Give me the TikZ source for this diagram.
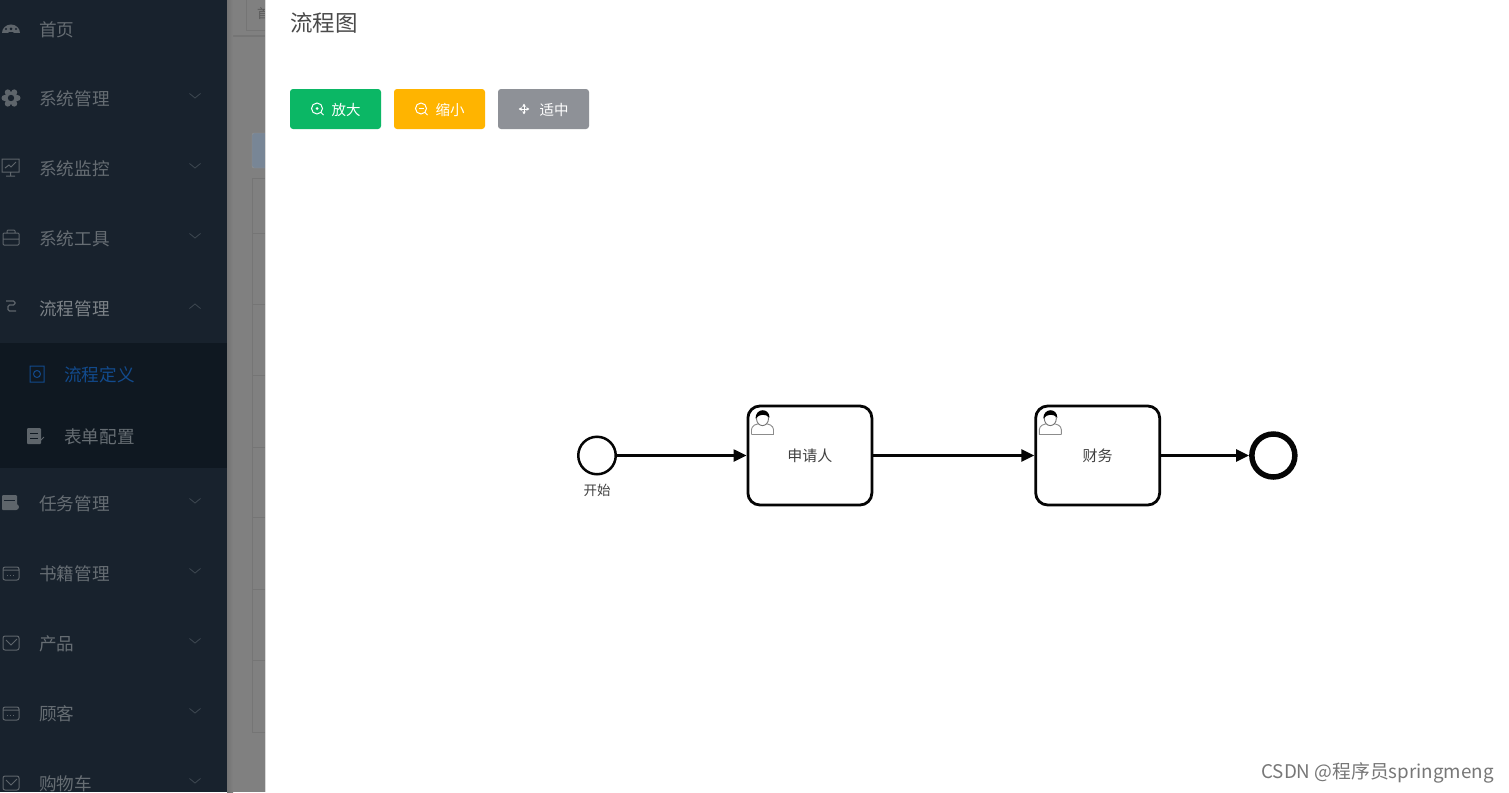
\documentclass[tikz,border=0pt]{standalone}
\usepackage{fontspec}
\usepackage{tikz}
\usetikzlibrary{arrows.meta,positioning,calc}
\setmainfont{Noto Sans CJK SC}
\definecolor{SideNavy}{HTML}{18222D}
\definecolor{SubNavy}{HTML}{0F1821}
\definecolor{MaskGrey}{HTML}{808080}
\definecolor{TableLine}{HTML}{757575}
\definecolor{MenuText}{HTML}{666D73}
\definecolor{MenuOpen}{HTML}{7C8287}
\definecolor{MenuIcon}{HTML}{5E656B}
\definecolor{MenuArrow}{HTML}{3E4851}
\definecolor{ActiveBlue}{HTML}{124A8C}
\definecolor{TitleGrey}{HTML}{4A4A4A}
\definecolor{ZoomGreen}{HTML}{0BB765}
\definecolor{ShrinkGold}{HTML}{FFB400}
\definecolor{FitGrey}{HTML}{8E9197}
\definecolor{MarkGrey}{HTML}{777777}
\definecolor{BpmnInk}{HTML}{050505}
\definecolor{QueryBlue}{HTML}{788696}

\begin{document}
\begin{tikzpicture}[
  x=1pt, y=-1pt,
  menuitem/.style={anchor=west, text=MenuText, font=\fontsize{17.6}{20}\selectfont, inner sep=0pt},
  iconline/.style={draw=MenuIcon, line width=1pt},
  iconfill/.style={fill=MenuIcon},
  tableline/.style={draw=TableLine, line width=0.8pt},
  toolbtn/.style={rounded corners=3pt, minimum width=91pt, minimum height=40pt, inner sep=0pt,
    outer sep=0pt, text=white, font=\fontsize{14.5}{16}\selectfont, text depth=0pt},
  btnicon/.style={draw=white, line width=1pt},
  startevent/.style={circle, draw=BpmnInk, fill=white, line width=2.5pt, minimum size=37.5pt, inner sep=0pt},
  endevent/.style={circle, draw=BpmnInk, fill=white, line width=5.5pt, minimum size=43pt, inner sep=0pt},
  usertask/.style={draw=BpmnInk, fill=white, line width=2.8pt, rounded corners=12pt, minimum width=124pt,
    minimum height=99pt, inner sep=0pt, font=\fontsize{15}{16}\selectfont, text=black!75},
  flowline/.style={-{Triangle[length=13pt,width=12pt]}, line width=2.5pt, draw=BpmnInk},
  chevron/.pic={\draw[draw=MenuArrow, line width=0.8pt] (-5.5,-2.5) -- (0,2) -- (5.5,-2.5);},
  chevronup/.pic={\draw[draw=MenuArrow, line width=0.8pt] (-5.5,2.5) -- (0,-2) -- (5.5,2.5);},
  personicon/.pic={
    \draw[draw=black!45, line width=0.9pt, fill=white, rounded corners=3pt] (-11,12) -- (-11,4) -- (-5,1) -- (5,1) -- (11,4) -- (11,12);
    \draw[draw=black!45, line width=0.9pt] (-11,12) -- (11,12);
    \draw[draw=black!55, line width=0.9pt, fill=white] (0,-4) ellipse (6 and 7);
    \fill[black] (-7,-4) .. controls (-7,-15) and (7,-15) .. (7,-5) .. controls (3,-9) and (-3,-9) .. (-7,-4);
  }
]

\clip (0,0) rectangle (1509,792);
\fill[MaskGrey] (0,0) rectangle (1509,792);

% page behind the mask
\fill[black!54] (227,35) rectangle (265,37);
\draw[tableline] (246,-2) rectangle (270,30);
\node[anchor=west, inner sep=0pt, text=black!65, font=\fontsize{13}{14}\selectfont] (tabtext) at (257,14) {首页};
\draw[draw=black!42, fill=QueryBlue, rounded corners=2pt] (252,133) rectangle (275,168);
\draw[tableline] (252,178) -- (252,732) -- (265,732);
\foreach \rowy in {178,233,304,375,447,517,589,660}
  \draw[tableline] (252,\rowy) -- (265,\rowy);

% sidebar
\fill[SideNavy] (0,0) rectangle (227,792);
\fill[SubNavy] (0,343) rectangle (227,468);
\shade[left color=black!55, right color=MaskGrey] (227,0) rectangle (233,792);

\node[menuitem] (home) at (39,30) {首页};
\node[menuitem] (system) at (39,99) {系统管理};
\node[menuitem] (monitor) at (39,169) {系统监控};
\node[menuitem] (tools) at (39,239) {系统工具};
\node[menuitem, text=MenuOpen] (process) at (39,309) {流程管理};
\node[menuitem, text=ActiveBlue] (definition) at (64,375) {流程定义};
\node[menuitem] (formconfig) at (64,437) {表单配置};
\node[menuitem] (tasks) at (39,504) {任务管理};
\node[menuitem] (books) at (39,574) {书籍管理};
\node[menuitem] (products) at (39,644) {产品};
\node[menuitem] (customers) at (39,714) {顾客};
\node[menuitem] (cart) at (39,784) {购物车};

\pic at (195,96) {chevron};
\pic at (195,166) {chevron};
\pic at (195,236) {chevron};
\pic at (195,306) {chevronup};
\pic at (195,501) {chevron};
\pic at (195,571) {chevron};
\pic at (195,641) {chevron};
\pic at (195,711) {chevron};
\pic at (195,781) {chevron};

% sidebar icons
\fill[iconfill] (2,33) arc (180:360:9 and 8.5) -- cycle;
\fill[SideNavy] (11,29) circle (1.5) (6,29) circle (1.1) (16,29) circle (1.1) (11,33) ellipse (3 and 1);
\foreach \petal in {0,60,...,300}
  \fill[iconfill] (11,98) ++(\petal:6.5) circle (3);
\fill[iconfill] (11,98) circle (6.5);
\fill[SideNavy] (11,98) circle (3.2);
\draw[iconline] (2,159) rectangle (19,172) (10.5,172) -- (10.5,176) (6,176) -- (15,176) (5,168) -- (9,165) -- (11,167) -- (16,162);
\draw[iconline, rounded corners=1pt] (3,233) rectangle (19,245) (7,233) -- (7,230) -- (15,230) -- (15,233) (3,239) -- (19,239);
\draw[iconline, line width=1.3pt, rounded corners=1.5pt] (6,301) -- (15,301) -- (15,305) -- (8,305) -- (8,311) -- (16,311);
\draw[draw=ActiveBlue, line width=1pt] (30,366) rectangle (44,382) (37,374) circle (3.5);
\fill[iconfill, rounded corners=1pt] (27,428) rectangle (41,444);
\draw[draw=SubNavy, line width=1pt] (30,433) -- (38,433) (30,438) -- (38,438);
\draw[iconline] (38,443) -- (44,437);
\fill[iconfill, rounded corners=1pt] (2,495) rectangle (17,510);
\draw[draw=SideNavy, line width=1pt] (4,500) -- (15,500);
\fill[iconfill] (16,507) circle (3);
\draw[iconline, rounded corners=2pt] (3,567) rectangle (19,580) (3,570) -- (19,570);
\draw[iconline, dotted] (7,575) -- (15,575);
\draw[iconline, rounded corners=2pt] (3,636) rectangle (19,650);
\draw[iconline] (6,640) -- (11,645) -- (17,639);
\draw[iconline, rounded corners=2pt] (3,707) rectangle (19,720) (3,710) -- (19,710);
\draw[iconline, dotted] (7,715) -- (15,715);
\draw[iconline, rounded corners=2pt] (3,776) rectangle (19,790);
\draw[iconline] (6,780) -- (11,785) -- (17,779);

% dialog
\fill[white] (265,0) rectangle (1509,792);
\fill[black!15] (265,0) rectangle (266,792);

\node[anchor=west, inner sep=0pt, text=TitleGrey, font=\fontsize{22.5}{24}\selectfont] (title) at (290,23) {流程图};

\node[toolbtn, fill=ZoomGreen, anchor=north west] (zoomin) at (290,89) {\hspace*{21pt}放大};
\node[toolbtn, fill=ShrinkGold, right=13pt of zoomin] (zoomout) {\hspace*{21pt}缩小};
\node[toolbtn, fill=FitGrey, right=13pt of zoomout] (fitview) {\hspace*{21pt}适中};

\draw[btnicon] ($(zoomin.west)+(27,-0.5)$) circle (5.5);
\fill[white] ($(zoomin.west)+(27,-0.5)$) circle (1.5);
\draw[btnicon] ($(zoomin.west)+(31,3.5)$) -- ++(2.5,2.5);
\draw[btnicon] ($(zoomout.west)+(27,-0.5)$) circle (5.5);
\draw[btnicon] ($(zoomout.west)+(24.5,-0.5)$) -- ++(5,0);
\draw[btnicon] ($(zoomout.west)+(31,3.5)$) -- ++(2.5,2.5);
\draw[btnicon, {Latex[length=3pt,width=4pt]}-{Latex[length=3pt,width=4pt]}] ($(fitview.west)+(20.5,0)$) -- ++(11,0);
\draw[btnicon, {Latex[length=3pt,width=4pt]}-{Latex[length=3pt,width=4pt]}] ($(fitview.west)+(26,-5.5)$) -- ++(0,11);

% process
\node[startevent] (start) at (597,455.5) {};
\node[below=8pt of start, inner sep=0pt, text=black!75, font=\fontsize{13.5}{14}\selectfont] (startlabel) {开始};
\node[usertask, right=129.5pt of start] (applicant) {\raisebox{1pt}{申请人}};
\node[usertask, right=161pt of applicant] (finance) {\raisebox{1pt}{财务}};
\node[endevent, right=88pt of finance] (finish) {};

\pic at ($(applicant.north west)+(16,18)$) {personicon};
\pic at ($(finance.north west)+(16,18)$) {personicon};

\draw[flowline] (start) -- (applicant);
\draw[flowline] (applicant) -- (finance);
\draw[flowline] (finance) -- (finish);

\node[anchor=east, inner sep=0pt, text=MarkGrey, font=\fontsize{18.8}{20}\selectfont] (watermark) at (1494,773) {CSDN @程序员springmeng};

\end{tikzpicture}
\end{document}
